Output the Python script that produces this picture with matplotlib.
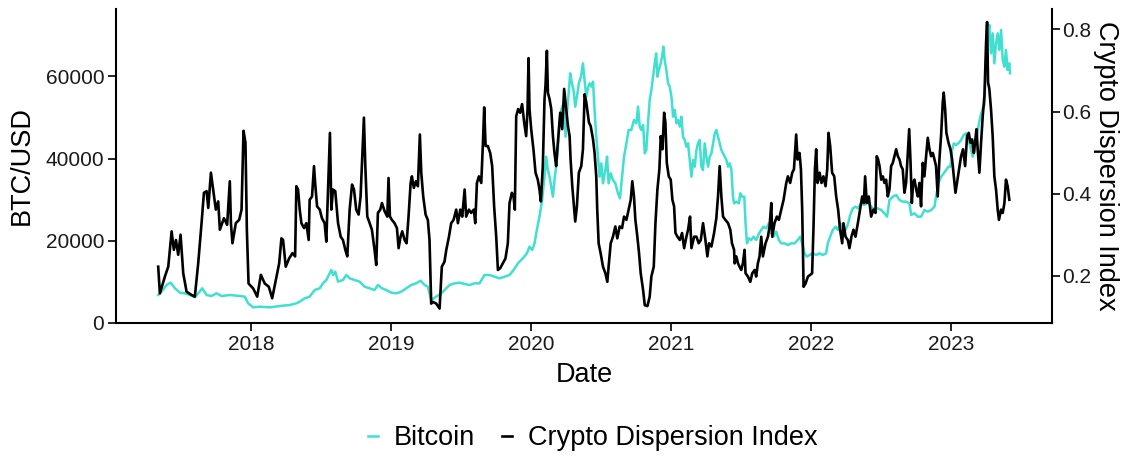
import pandas as pd
import matplotlib
matplotlib.use("Agg")
from matplotlib import pyplot as plt
import matplotlib.dates as mdates

# values (decimal years)
cdi_years = [
    2017.333, 2017.345, 2017.381, 2017.405, 2017.429, 2017.445, 2017.460, 2017.476, 2017.493, 2017.512,
    2017.536, 2017.572, 2017.595, 2017.619, 2017.643, 2017.660, 2017.679, 2017.691, 2017.710, 2017.726,
    2017.745, 2017.762, 2017.774, 2017.803, 2017.826, 2017.845, 2017.853, 2017.864, 2017.888, 2017.912,
    2017.929, 2017.943, 2017.957, 2017.967, 2017.979, 2018.012, 2018.041, 2018.067, 2018.095, 2018.124,
    2018.148, 2018.179, 2018.198, 2018.214, 2018.226, 2018.245, 2018.269, 2018.293, 2018.312, 2018.321,
    2018.333, 2018.345, 2018.357, 2018.376, 2018.392, 2018.409, 2018.416, 2018.433, 2018.447, 2018.457,
    2018.469, 2018.488, 2018.504, 2018.523, 2018.535, 2018.547, 2018.561, 2018.571, 2018.583, 2018.599,
    2018.619, 2018.638, 2018.654, 2018.671, 2018.685, 2018.702, 2018.719, 2018.733, 2018.749, 2018.766,
    2018.780, 2018.792, 2018.804, 2018.814, 2018.828, 2018.845, 2018.861, 2018.880, 2018.892, 2018.904,
    2018.921, 2018.933, 2018.952, 2018.971, 2018.980, 2018.990, 2019.004, 2019.023, 2019.040, 2019.052,
    2019.066, 2019.078, 2019.095, 2019.109, 2019.123, 2019.138, 2019.147, 2019.161, 2019.176, 2019.190,
    2019.204, 2019.214, 2019.228, 2019.245, 2019.261, 2019.273, 2019.285, 2019.299, 2019.321, 2019.345,
    2019.361, 2019.380, 2019.393, 2019.412, 2019.428, 2019.445, 2019.464, 2019.476, 2019.493, 2019.507,
    2019.524, 2019.535, 2019.555, 2019.571, 2019.590, 2019.600, 2019.612, 2019.626, 2019.643, 2019.655,
    2019.664, 2019.674, 2019.690, 2019.707, 2019.721, 2019.735, 2019.750, 2019.762, 2019.778, 2019.797,
    2019.816, 2019.833, 2019.845, 2019.862, 2019.874, 2019.883, 2019.893, 2019.907, 2019.921, 2019.935,
    2019.950, 2019.964, 2019.974, 2019.981, 2019.988, 2020.000, 2020.016, 2020.031, 2020.047, 2020.059,
    2020.069, 2020.083, 2020.095, 2020.102, 2020.112, 2020.119, 2020.131, 2020.143, 2020.155, 2020.166,
    2020.178, 2020.190, 2020.207, 2020.221, 2020.235, 2020.245, 2020.262, 2020.274, 2020.281, 2020.293,
    2020.305, 2020.314, 2020.326, 2020.340, 2020.357, 2020.369, 2020.381, 2020.393, 2020.412, 2020.424,
    2020.441, 2020.452, 2020.464, 2020.471, 2020.481, 2020.495, 2020.512, 2020.529, 2020.543, 2020.552,
    2020.567, 2020.583, 2020.600, 2020.614, 2020.631, 2020.648, 2020.662, 2020.679, 2020.695, 2020.710,
    2020.721, 2020.733, 2020.743, 2020.757, 2020.769, 2020.781, 2020.798, 2020.810, 2020.829, 2020.845,
    2020.857, 2020.874, 2020.886, 2020.900, 2020.914, 2020.924, 2020.936, 2020.948, 2020.957, 2020.967,
    2020.981, 2020.995, 2021.007, 2021.019, 2021.029, 2021.043, 2021.060, 2021.076, 2021.091, 2021.107,
    2021.119, 2021.133, 2021.143, 2021.162, 2021.179, 2021.195, 2021.210, 2021.226, 2021.243, 2021.257,
    2021.269, 2021.286, 2021.305, 2021.321, 2021.333, 2021.345, 2021.357, 2021.369, 2021.386, 2021.405,
    2021.421, 2021.433, 2021.448, 2021.452, 2021.464, 2021.476, 2021.487, 2021.499, 2021.511, 2021.523,
    2021.530, 2021.547, 2021.564, 2021.578, 2021.595, 2021.606, 2021.618, 2021.630, 2021.642, 2021.654,
    2021.673, 2021.690, 2021.702, 2021.714, 2021.721, 2021.737, 2021.754, 2021.768, 2021.785, 2021.802,
    2021.821, 2021.833, 2021.849, 2021.864, 2021.876, 2021.885, 2021.892, 2021.902, 2021.916, 2021.926,
    2021.935, 2021.945, 2021.959, 2021.976, 2021.992, 2022.006, 2022.016, 2022.026, 2022.035, 2022.045,
    2022.059, 2022.073, 2022.087, 2022.102, 2022.114, 2022.123, 2022.135, 2022.149, 2022.164, 2022.178,
    2022.192, 2022.206, 2022.221, 2022.230, 2022.245, 2022.261, 2022.273, 2022.287, 2022.302, 2022.316,
    2022.333, 2022.349, 2022.364, 2022.376, 2022.385, 2022.397, 2022.411, 2022.428, 2022.445, 2022.459,
    2022.468, 2022.478, 2022.488, 2022.500, 2022.512, 2022.523, 2022.535, 2022.547, 2022.559, 2022.571,
    2022.583, 2022.595, 2022.607, 2022.619, 2022.631, 2022.642, 2022.654, 2022.666, 2022.678, 2022.690,
    2022.700, 2022.709, 2022.719, 2022.728, 2022.738, 2022.750, 2022.762, 2022.773, 2022.785, 2022.797,
    2022.809, 2022.821, 2022.833, 2022.845, 2022.857, 2022.869, 2022.881, 2022.892, 2022.904, 2022.916,
    2022.928, 2022.940, 2022.947, 2022.957, 2022.966, 2022.981, 2022.995, 2023.007, 2023.019, 2023.031,
    2023.042, 2023.057, 2023.071, 2023.085, 2023.100, 2023.114, 2023.126, 2023.138, 2023.150, 2023.162,
    2023.171, 2023.181, 2023.190, 2023.202, 2023.214, 2023.226, 2023.238, 2023.250, 2023.257, 2023.264,
    2023.273, 2023.285, 2023.297, 2023.309, 2023.321, 2023.333, 2023.342, 2023.357, 2023.369, 2023.381,
    2023.392, 2023.404, 2023.416,
]
cdi_values = [
    0.222, 0.157, 0.198, 0.222, 0.308, 0.263, 0.287, 0.251, 0.300, 0.206,
    0.161, 0.153, 0.149, 0.230, 0.328, 0.402, 0.406, 0.365, 0.451, 0.410,
    0.361, 0.381, 0.312, 0.340, 0.324, 0.430, 0.328, 0.279, 0.328, 0.336,
    0.361, 0.553, 0.524, 0.312, 0.181, 0.169, 0.149, 0.202, 0.181, 0.173,
    0.145, 0.198, 0.230, 0.291, 0.287, 0.222, 0.242, 0.255, 0.247, 0.418,
    0.410, 0.361, 0.328, 0.316, 0.328, 0.287, 0.385, 0.393, 0.467, 0.418,
    0.369, 0.361, 0.340, 0.328, 0.283, 0.402, 0.548, 0.361, 0.410, 0.406,
    0.328, 0.295, 0.287, 0.263, 0.247, 0.361, 0.422, 0.410, 0.361, 0.349,
    0.393, 0.491, 0.585, 0.467, 0.344, 0.328, 0.312, 0.263, 0.226, 0.353,
    0.361, 0.377, 0.357, 0.344, 0.438, 0.344, 0.336, 0.328, 0.316, 0.267,
    0.295, 0.308, 0.287, 0.279, 0.344, 0.426, 0.442, 0.414, 0.430, 0.418,
    0.544, 0.451, 0.393, 0.349, 0.336, 0.287, 0.132, 0.136, 0.132, 0.120,
    0.222, 0.234, 0.263, 0.295, 0.328, 0.336, 0.361, 0.328, 0.361, 0.344,
    0.410, 0.344, 0.361, 0.353, 0.361, 0.328, 0.426, 0.442, 0.426, 0.524,
    0.610, 0.516, 0.516, 0.499, 0.467, 0.369, 0.295, 0.214, 0.218, 0.230,
    0.242, 0.279, 0.377, 0.402, 0.393, 0.361, 0.589, 0.606, 0.597, 0.618,
    0.573, 0.540, 0.606, 0.730, 0.606, 0.557, 0.508, 0.451, 0.434, 0.410,
    0.381, 0.467, 0.630, 0.663, 0.748, 0.646, 0.630, 0.606, 0.540, 0.499,
    0.467, 0.524, 0.597, 0.557, 0.655, 0.622, 0.565, 0.540, 0.483, 0.418,
    0.369, 0.332, 0.369, 0.451, 0.467, 0.508, 0.642, 0.622, 0.573, 0.565,
    0.532, 0.499, 0.442, 0.361, 0.279, 0.255, 0.222, 0.206, 0.185, 0.222,
    0.279, 0.295, 0.320, 0.291, 0.320, 0.316, 0.344, 0.336, 0.361, 0.385,
    0.430, 0.393, 0.336, 0.295, 0.255, 0.206, 0.165, 0.128, 0.126, 0.149,
    0.198, 0.222, 0.328, 0.410, 0.459, 0.540, 0.508, 0.597, 0.573, 0.475,
    0.442, 0.434, 0.385, 0.369, 0.304, 0.295, 0.287, 0.304, 0.267, 0.295,
    0.312, 0.344, 0.267, 0.295, 0.295, 0.279, 0.287, 0.328, 0.287, 0.247,
    0.279, 0.271, 0.304, 0.340, 0.393, 0.467, 0.393, 0.344, 0.336, 0.328,
    0.312, 0.279, 0.263, 0.230, 0.247, 0.230, 0.222, 0.214, 0.230, 0.263,
    0.206, 0.198, 0.185, 0.206, 0.214, 0.198, 0.230, 0.247, 0.295, 0.247,
    0.279, 0.295, 0.320, 0.377, 0.295, 0.328, 0.344, 0.336, 0.361, 0.385,
    0.426, 0.442, 0.426, 0.451, 0.459, 0.508, 0.544, 0.483, 0.499, 0.459,
    0.361, 0.173, 0.181, 0.198, 0.202, 0.206, 0.320, 0.459, 0.508, 0.426,
    0.451, 0.426, 0.442, 0.418, 0.459, 0.548, 0.516, 0.451, 0.442, 0.393,
    0.361, 0.312, 0.279, 0.328, 0.295, 0.287, 0.267, 0.295, 0.312, 0.295,
    0.328, 0.361, 0.393, 0.377, 0.442, 0.377, 0.393, 0.344, 0.361, 0.353,
    0.491, 0.483, 0.467, 0.434, 0.442, 0.426, 0.434, 0.393, 0.410, 0.467,
    0.475, 0.491, 0.508, 0.491, 0.483, 0.467, 0.459, 0.402, 0.426, 0.499,
    0.557, 0.483, 0.377, 0.426, 0.434, 0.410, 0.393, 0.426, 0.369, 0.475,
    0.442, 0.491, 0.536, 0.508, 0.491, 0.499, 0.483, 0.467, 0.393, 0.483,
    0.540, 0.622, 0.646, 0.606, 0.548, 0.524, 0.508, 0.483, 0.442, 0.402,
    0.426, 0.459, 0.491, 0.508, 0.467, 0.540, 0.548, 0.524, 0.532, 0.499,
    0.524, 0.557, 0.508, 0.451, 0.524, 0.589, 0.638, 0.769, 0.818, 0.671,
    0.655, 0.606, 0.540, 0.442, 0.410, 0.361, 0.336, 0.361, 0.353, 0.377,
    0.434, 0.418, 0.385,
]

btc_years = [
    2017.333, 2017.357, 2017.393, 2017.422, 2017.453, 2017.488, 2017.524, 2017.560, 2017.595, 2017.619,
    2017.648, 2017.679, 2017.714, 2017.750, 2017.786, 2017.845, 2017.917, 2017.953, 2017.976, 2018.012,
    2018.060, 2018.131, 2018.203, 2018.274, 2018.321, 2018.345, 2018.380, 2018.416, 2018.452, 2018.488,
    2018.511, 2018.535, 2018.559, 2018.571, 2018.583, 2018.599, 2018.619, 2018.654, 2018.678, 2018.702,
    2018.738, 2018.773, 2018.809, 2018.845, 2018.880, 2018.904, 2018.933, 2018.964, 2019.000, 2019.035,
    2019.071, 2019.107, 2019.142, 2019.178, 2019.209, 2019.238, 2019.261, 2019.285, 2019.321, 2019.357,
    2019.381, 2019.416, 2019.452, 2019.488, 2019.524, 2019.559, 2019.595, 2019.631, 2019.666, 2019.702,
    2019.738, 2019.774, 2019.809, 2019.845, 2019.874, 2019.905, 2019.940, 2019.969, 2019.988, 2020.007,
    2020.024, 2020.040, 2020.059, 2020.078, 2020.095, 2020.107, 2020.119, 2020.131, 2020.143, 2020.155,
    2020.166, 2020.178, 2020.190, 2020.202, 2020.214, 2020.231, 2020.245, 2020.257, 2020.269, 2020.278,
    2020.290, 2020.302, 2020.314, 2020.326, 2020.340, 2020.355, 2020.369, 2020.378, 2020.393, 2020.407,
    2020.417, 2020.429, 2020.441, 2020.452, 2020.464, 2020.476, 2020.488, 2020.500, 2020.512, 2020.529,
    2020.541, 2020.552, 2020.567, 2020.583, 2020.600, 2020.619, 2020.633, 2020.648, 2020.662, 2020.679,
    2020.695, 2020.714, 2020.733, 2020.750, 2020.762, 2020.774, 2020.786, 2020.798, 2020.810, 2020.821,
    2020.833, 2020.845, 2020.857, 2020.869, 2020.881, 2020.891, 2020.900, 2020.910, 2020.924, 2020.933,
    2020.943, 2020.952, 2020.964, 2020.976, 2020.988, 2021.000, 2021.012, 2021.024, 2021.036, 2021.048,
    2021.060, 2021.071, 2021.083, 2021.095, 2021.107, 2021.119, 2021.131, 2021.143, 2021.155, 2021.167,
    2021.179, 2021.190, 2021.202, 2021.214, 2021.226, 2021.238, 2021.250, 2021.262, 2021.274, 2021.286,
    2021.298, 2021.310, 2021.321, 2021.333, 2021.345, 2021.357, 2021.369, 2021.381, 2021.393, 2021.405,
    2021.417, 2021.429, 2021.440, 2021.448, 2021.464, 2021.483, 2021.492, 2021.506, 2021.521, 2021.530,
    2021.540, 2021.554, 2021.571, 2021.587, 2021.606, 2021.626, 2021.642, 2021.659, 2021.678, 2021.697,
    2021.714, 2021.730, 2021.749, 2021.768, 2021.785, 2021.809, 2021.833, 2021.856, 2021.880, 2021.904,
    2021.921, 2021.935, 2021.952, 2021.968, 2021.987, 2022.011, 2022.035, 2022.059, 2022.083, 2022.106,
    2022.118, 2022.135, 2022.154, 2022.173, 2022.190, 2022.206, 2022.226, 2022.245, 2022.264, 2022.278,
    2022.297, 2022.316, 2022.335, 2022.356, 2022.380, 2022.404, 2022.428, 2022.452, 2022.476, 2022.500,
    2022.523, 2022.542, 2022.559, 2022.583, 2022.607, 2022.631, 2022.654, 2022.678, 2022.702, 2022.714,
    2022.738, 2022.762, 2022.785, 2022.809, 2022.833, 2022.857, 2022.881, 2022.892, 2022.909, 2022.928,
    2022.947, 2022.964, 2022.981, 2022.995, 2023.007, 2023.019, 2023.035, 2023.052, 2023.071, 2023.090,
    2023.107, 2023.123, 2023.138, 2023.154, 2023.171, 2023.185, 2023.195, 2023.209, 2023.226, 2023.238,
    2023.250, 2023.262, 2023.273, 2023.285, 2023.297, 2023.309, 2023.321, 2023.333, 2023.345, 2023.357,
    2023.369, 2023.381, 2023.392, 2023.404, 2023.416, 2023.421,
]
btc_values = [
    6749, 7561, 9185, 9753, 8373, 7317, 7155, 6749, 6181, 7155,
    8373, 6749, 6507, 7155, 6507, 6749, 6507, 6343, 4719, 3745,
    3907, 3745, 4069, 4311, 4719, 5125, 5937, 6343, 7967, 8373,
    9591, 10403, 12027, 12839, 11621, 12435, 9997, 10403, 11621, 10809,
    10403, 9997, 8779, 8373, 7967, 9185, 8373, 7967, 7317, 7155,
    7561, 8373, 9185, 9591, 10241, 9185, 8779, 5531, 6343, 7155,
    7967, 9185, 9591, 9753, 9429, 9185, 9591, 9591, 11621, 11621,
    11215, 10809, 11215, 11621, 12839, 14463, 15681, 16899, 18523, 17711,
    19335, 22583, 25831, 29891, 35575, 40447, 37199, 35575, 33139, 30703,
    34763, 38011, 42071, 48567, 51815, 53439, 45319, 51815, 56687, 60747,
    58311, 56687, 52627, 55063, 58311, 59935, 63183, 59935, 55063, 57499,
    58311, 57499, 58717, 51815, 45319, 40447, 35575, 38823, 33951, 37199,
    40447, 33951, 36387, 34763, 33951, 31515, 30297, 35575, 40447, 43695,
    46943, 46943, 49379, 48567, 52627, 47755, 46943, 48161, 41259, 42071,
    48567, 54251, 56687, 59935, 63183, 65619, 59935, 61559, 63183, 64807,
    67243, 63995, 61559, 58311, 57499, 55063, 50191, 51815, 48567, 49379,
    47755, 50191, 45319, 44507, 42883, 43695, 39635, 35575, 39635, 38011,
    42071, 43695, 44507, 38011, 37199, 43695, 40447, 38011, 40447, 41259,
    43695, 46131, 46943, 45319, 43695, 42071, 41259, 40447, 39635, 38011,
    38823, 37199, 30703, 29079, 29485, 29079, 31515, 30703, 30703, 24207,
    19335, 20553, 20147, 20959, 20147, 21771, 22583, 23395, 22989, 24207,
    21771, 20959, 22177, 20147, 19335, 19335, 18929, 19335, 19335, 20147,
    20959, 19335, 16899, 16087, 16493, 16899, 16493, 16899, 16493, 16899,
    19335, 20959, 22583, 23395, 22583, 24207, 23395, 22583, 24207, 26237,
    27861, 28267, 27861, 29079, 28673, 29485, 28267, 27455, 27861, 27455,
    26643, 25831, 29891, 30703, 31109, 29891, 29485, 29485, 29079, 26237,
    26643, 25831, 25831, 27455, 27049, 27455, 28267, 30703, 33951, 35575,
    36387, 37199, 38011, 38011, 42071, 43695, 43289, 43695, 44507, 45725,
    46131, 44507, 42883, 40447, 42071, 45319, 47755, 50191, 52221, 53033,
    63995, 69679, 72521, 65619, 70491, 63183, 68055, 70491, 66431, 71303,
    63995, 62371, 66431, 61559, 63183, 60747,
]

btc_ticks = [0, 20000, 40000, 60000]
cdi_ticks = [0.2, 0.4, 0.6, 0.8]


def to_date(y):
    yr = int(y)
    start = pd.Timestamp(yr, 1, 1)
    return start + (pd.Timestamp(yr + 1, 1, 1) - start) * (y - yr)


cdi_dates = [to_date(y) for y in cdi_years]
btc_dates = [to_date(y) for y in btc_years]

plt.rcParams['font.family'] = ['Liberation Sans', 'DejaVu Sans']

fig = plt.figure(figsize=(11.28, 4.62), dpi=100)
ax = fig.add_axes([0.1028, 0.3015, 0.8298, 0.6784])
ax2 = ax.twinx()

l1, = ax.plot(btc_dates, btc_values, color='#40E0D0', lw=1.8)
l2, = ax2.plot(cdi_dates, cdi_values, color='black', lw=1.9)

ax.set_xlim(to_date(2017.031), to_date(2023.721))
ax.set_ylim(0, 76350)
ax2.set_ylim(0.0855, 0.849)
ax.set_yticks(btc_ticks)
ax2.set_yticks(cdi_ticks)
ax.xaxis.set_major_locator(mdates.YearLocator())
ax.xaxis.set_major_formatter(mdates.DateFormatter('%Y'))

for a in (ax, ax2):
    a.spines['top'].set_visible(False)
    for s in a.spines.values():
        s.set_linewidth(1.5)
    a.tick_params(length=5.5, width=1.2, labelsize=15, colors='black', labelcolor='#1a1a1a', pad=3)
ax.spines['right'].set_visible(False)
ax2.spines['left'].set_visible(False)
ax2.spines['bottom'].set_visible(False)
ax2.tick_params(axis='y', pad=2)

ax.set_xlabel('Date', fontsize=19.5, labelpad=6)
ax.set_ylabel('BTC/USD', fontsize=19.5, labelpad=8)
ax2.set_ylabel('Crypto Dispersion Index', fontsize=19.5, rotation=270, labelpad=20)

fig.legend([l1, l2], ['Bitcoin', 'Crypto Dispersion Index'], loc='center',
           bbox_to_anchor=(593 / 1128, 1 - 438 / 462), ncol=2, frameon=False,
           fontsize=19.5, handlelength=0.35, handletextpad=0.6, columnspacing=1.0)

fig.savefig('out.png', dpi=100)
